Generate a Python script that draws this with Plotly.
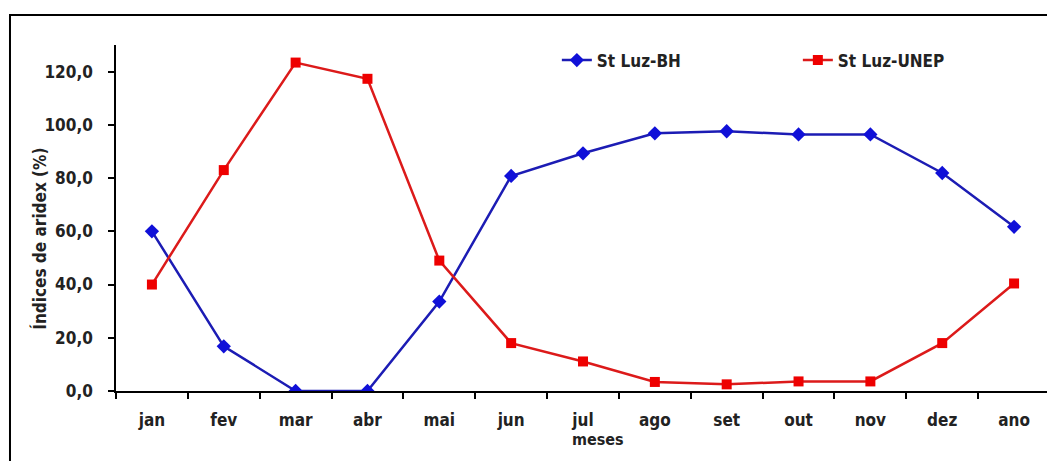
import plotly.graph_objects as go

months = ["jan", "fev", "mar", "abr", "mai", "jun", "jul", "ago", "set", "out", "nov", "dez", "ano"]
bh = [60.0, 16.8, 0.0, 0.0, 33.6, 80.8, 89.3, 96.8, 97.6, 96.4, 96.4, 81.9, 61.7]
unep = [40.0, 83.0, 123.4, 117.3, 49.0, 18.0, 11.1, 3.4, 2.5, 3.6, 3.6, 18.0, 40.4]
yticks = [0, 20, 40, 60, 80, 100, 120]

FONT = "DejaVu Sans Condensed, Liberation Sans Narrow, Arial Narrow, sans-serif"

fig = go.Figure()
fig.add_trace(go.Scatter(
    x=months, y=bh, name="<b>St Luz-BH</b>", mode="lines+markers",
    line=dict(color="#1c1cb4", width=2.5),
    marker=dict(symbol="diamond", size=11, color="#1010d8"),
))
fig.add_trace(go.Scatter(
    x=months, y=unep, name="<b>St Luz-UNEP</b>", mode="lines+markers",
    line=dict(color="#dc1a1a", width=2.5),
    marker=dict(symbol="square", size=10, color="#ee0000"),
))

# page body has an 8px offset: figure pixel = screen pixel - 8
fig.update_layout(
    width=1047, height=453,
    margin=dict(l=108, r=5, t=37, b=70),
    paper_bgcolor="white", plot_bgcolor="white",
    separators=",.",
    font=dict(family=FONT, size=15, color="#222222"),
    showlegend=True,
    legend=dict(orientation="h", x=0.472, y=0.955, xanchor="left", yanchor="middle",
                font=dict(size=17, color="#222222"), bgcolor="rgba(0,0,0,0)",
                entrywidth=196, entrywidthmode="pixels"),
    xaxis=dict(
        type="category", range=[-0.5, 12.5], showline=True, linecolor="black", linewidth=1.5,
        ticks="outside", tickson="boundaries", ticklen=6, tickcolor="black", tickwidth=1.5,
        showgrid=False, zeroline=False, ticklabelstandoff=13,
        tickvals=months, ticktext=["<b>%s</b>" % m for m in months],
        tickfont=dict(size=17),
    ),
    yaxis=dict(
        range=[0, 130], showline=True, linecolor="black", linewidth=1.5,
        ticks="outside", ticklen=6, tickcolor="black", tickwidth=1.5,
        showgrid=False, zeroline=False, ticklabelstandoff=12,
        tickvals=yticks, ticktext=["<b>%s</b>" % (("%.1f" % v).replace(".", ",")) for v in yticks],
        tickfont=dict(size=17),
    ),
    annotations=[
        dict(text="<b>Índices de aridex (%)</b>", x=(32 - 108) / 934, xref="paper", xanchor="center",
             textangle=-90, showarrow=False, font=dict(size=17),
             y=0.44, yref="paper", yanchor="middle"),
        dict(text="<b>meses</b>", x=(598 - 116) / 934, y=(391 - 439) / 346, xref="paper", yref="paper",
             xanchor="center", yanchor="middle", showarrow=False, font=dict(size=16)),
    ],
    shapes=[
        dict(type="rect", xref="paper", yref="paper", x0=-0.1135, x1=1.02, y0=-0.3, y1=1.0867,
             line=dict(color="black", width=2), fillcolor="rgba(0,0,0,0)"),
    ],
)

fig.write_html("out.html")
